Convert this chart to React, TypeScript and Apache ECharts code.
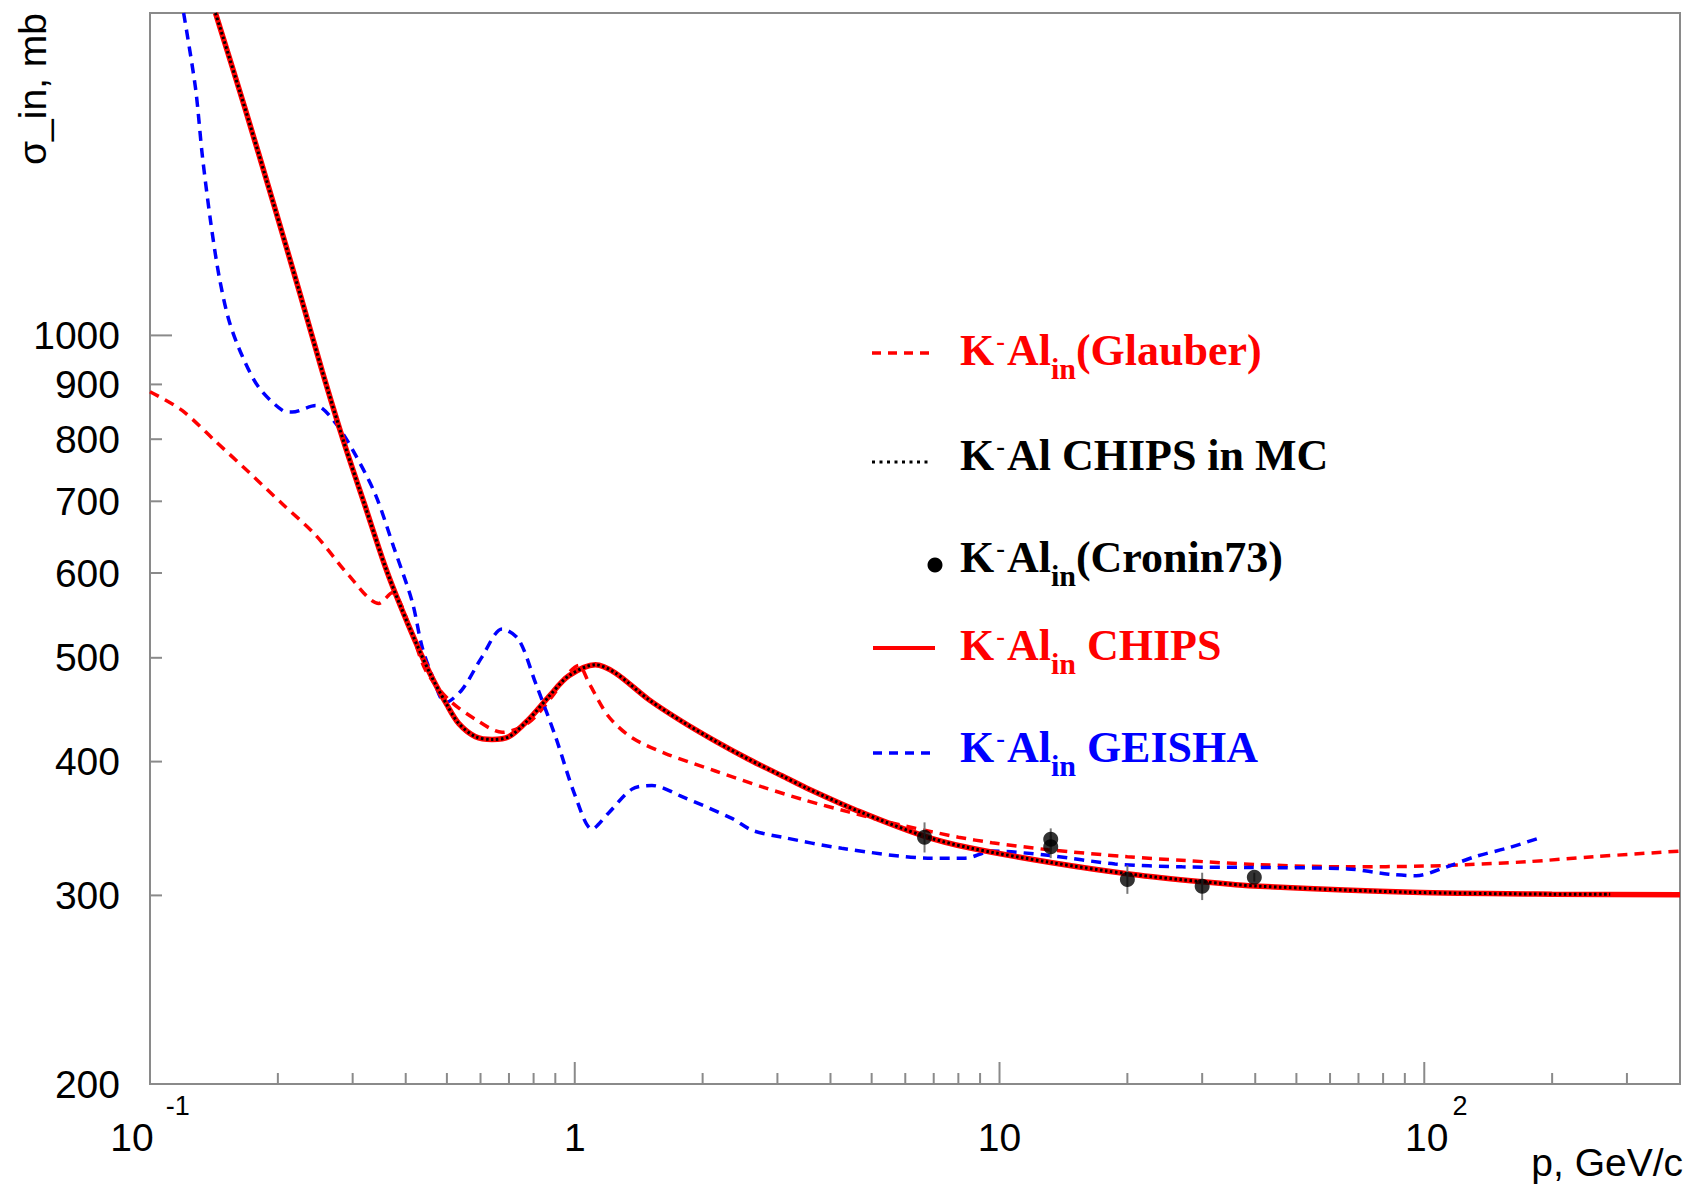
import React, { useEffect, useRef } from 'react';
import * as echarts from 'echarts';

// ---- cross-section curves (p in GeV/c, sigma in mb) ----
const chipsP = [0.1426, 0.167, 0.1954, 0.2262, 0.2542, 0.2857, 0.3209, 0.3607, 0.4054, 0.4556, 0.5, 0.5335, 0.584, 0.639, 0.7, 0.779, 0.869, 0.968, 1.118, 1.246, 1.494, 1.789, 2.143, 2.567, 3.075, 3.51, 4.7, 6.62, 8.43, 13.2, 20.4, 30, 41, 94, 200, 400];
const chipsSigma = [2000, 1634, 1327, 1089, 927, 796, 693, 603, 537, 484, 452, 434, 422, 419.5, 422, 438, 460, 481, 492.6, 484, 457, 436, 418, 402, 388, 378, 359, 341, 332.5, 322, 314, 309, 306, 302, 300.8, 300.5];

// MC curve follows CHIPS and stops at this momentum
const mcEndP = 274;
const mcEndSigma = 300.7;

const glauberP = [0.1, 0.119, 0.1428, 0.171, 0.205, 0.2454, 0.2938, 0.3457, 0.3716, 0.407, 0.4455, 0.5052, 0.584, 0.6745, 0.779, 0.884, 0.968, 1.022, 1.079, 1.2, 1.364, 1.635, 2.143, 2.81, 3.5, 4.41, 5.5, 6.7, 8, 9.6, 13, 20, 26.8, 41, 66, 100, 125, 174, 250, 400];
const glauberSigma = [886, 851, 796, 745, 696, 651, 597, 562, 575, 537, 487, 457, 438, 426, 435, 460, 484, 492, 474, 441, 421, 407, 392, 378, 368, 359, 351, 345, 340, 336, 331, 326, 323.5, 320.5, 319, 319.5, 320.5, 322.5, 326, 330];

const geishaP = [0.12, 0.128, 0.1328, 0.139, 0.1454, 0.1535, 0.165, 0.1805, 0.205, 0.216, 0.2454, 0.2735, 0.3048, 0.34, 0.375, 0.4143, 0.437, 0.4617, 0.4963, 0.543, 0.605, 0.6745, 0.738, 0.808, 0.901, 1.004, 1.098, 1.2, 1.364, 1.52, 1.789, 2.344, 2.62, 3.075, 4.25, 6.93, 8.3, 9.6, 13, 18.7, 26.9, 38.5, 66, 82.5, 95.7, 113, 131.5, 158.5, 187.3];
const geishaSigma = [2000, 1701, 1472, 1275, 1136, 1032, 956, 894, 851, 848, 860, 828, 773, 709, 634, 564, 512, 481, 454, 467, 501, 532, 520, 474, 422, 371, 346, 358, 377, 380, 371, 354, 345, 340, 332, 325, 325, 330, 327, 321, 319, 318.6, 317.6, 314, 313, 319, 326, 332.5, 339.6];

// Cronin73 measurements
const croninP = [6.66, 13.2, 13.2, 20.0, 30.0, 39.8];
const croninSigma = [340, 338.5, 333, 310.5, 306, 312];
const croninErr = [11, 8, 8, 9.5, 9, 3];

// ---- axis ticks and labels ----
const xMajorTicks = [0.1, 1, 10, 100];
const xMinorTicks = [0.2, 0.3, 0.4, 0.5, 0.6, 0.7, 0.8, 0.9, 2, 3, 4, 5, 6, 7, 8, 9, 20, 30, 40, 50, 60, 70, 80, 90, 200, 300];
const yMinorTicks = [300, 400, 500, 600, 700, 800, 900];
const yMajorTicks = [1000];
const yLabelValues = [200, 300, 400, 500, 600, 700, 800, 900, 1000];

const SANS = "'Liberation Sans', Arial, Helvetica, sans-serif";
const SERIF = "'Liberation Serif', 'Times New Roman', serif";
const FRAME = '#8a8a8a';
const RED = '#ff0000';
const BLUE = '#0000ff';

function pairs(p: number[], s: number[]) {
  return p.map((v, i) => [v, s[i]]);
}

function legendRich(color: string) {
  const base = { fontFamily: SERIF, fontWeight: 'bold', fill: color, verticalAlign: 'top' };
  return {
    m: { ...base, fontSize: 44, lineHeight: 44 },
    p: { ...base, fontSize: 26, lineHeight: 12, padding: [0, 2, 0, 2] },
    s: { ...base, fontSize: 30, lineHeight: 30, padding: [25, 0, 0, 0] },
  };
}

function legendText(text: string, color: string, x: number, baseline: number) {
  return {
    type: 'text',
    x,
    y: baseline - 37,
    silent: true,
    style: {
      text,
      rich: legendRich(color),
      fill: color,
      align: 'left',
      textAlign: 'left',
      verticalAlign: 'top',
      textVerticalAlign: 'top',
    },
  };
}

function legendLine(x1: number, x2: number, y: number, color: string, width: number, dash: any) {
  return {
    type: 'line',
    silent: true,
    shape: { x1, y1: y, x2, y2: y },
    style: { stroke: color, lineWidth: width, lineDash: dash },
  };
}

export default function App() {
  const ref = useRef<HTMLDivElement>(null);

  useEffect(() => {
    if (!ref.current) return;
    const chart = echarts.init(ref.current, null, { renderer: 'svg' });

    const mcData = pairs(chipsP, chipsSigma).filter((d) => d[0] <= 200);
    mcData.push([mcEndP, mcEndSigma]);

    const tickSeries = (values: number[], axis: 'x' | 'y', len: number) => ({
      type: 'custom',
      silent: true,
      clip: false,
      z: 5,
      data: values.map((v) => (axis === 'x' ? [v, 200] : [0.1, v])),
      renderItem: (_params: any, api: any) => {
        const pt = api.coord([api.value(0), api.value(1)]);
        return {
          type: 'line',
          shape:
            axis === 'x'
              ? { x1: pt[0], y1: pt[1], x2: pt[0], y2: pt[1] - len }
              : { x1: pt[0], y1: pt[1], x2: pt[0] + len, y2: pt[1] },
          style: { stroke: FRAME, lineWidth: 2 },
        };
      },
    });

    const xLabel = (v: number) => {
      const e = Math.log10(v);
      const k = Math.round(e);
      if (Math.abs(e - k) > 1e-6) return '';
      if (k === -1) return '{b|10}{s|-1}';
      if (k === 0) return '{b|1}';
      if (k === 1) return '{b|10}';
      if (k === 2) return '{b2|10}{s2|2}';
      return '';
    };

    const option: any = {
      animation: false,
      backgroundColor: '#ffffff',
      grid: {
        left: 150,
        top: 13,
        width: 1530,
        height: 1071,
        show: true,
        borderColor: FRAME,
        borderWidth: 2,
        backgroundColor: 'transparent',
      },
      xAxis: {
        type: 'log',
        logBase: 10,
        min: 0.1,
        max: 400,
        axisLine: { show: true, onZero: false, lineStyle: { color: FRAME, width: 2 } },
        axisTick: { show: false },
        splitLine: { show: false },
        axisLabel: {
          margin: 8,
          formatter: xLabel,
          rich: {
            b: { fontFamily: SANS, fontSize: 39, lineHeight: 39, color: '#000', verticalAlign: 'top', padding: [26, 0, 0, 0] },
            b2: { fontFamily: SANS, fontSize: 39, lineHeight: 39, color: '#000', verticalAlign: 'top', padding: [26, 0, 0, 24] },
            s: { fontFamily: SANS, fontSize: 27, lineHeight: 27, color: '#000', verticalAlign: 'top', padding: [0, 0, 0, 12] },
            s2: { fontFamily: SANS, fontSize: 27, lineHeight: 27, color: '#000', verticalAlign: 'top', padding: [0, 0, 0, 4] },
          },
        },
      },
      yAxis: {
        type: 'log',
        logBase: 10,
        min: 200,
        max: 2000,
        axisLine: { show: true, lineStyle: { color: FRAME, width: 2 } },
        axisTick: { show: false },
        axisLabel: { show: false },
        splitLine: { show: false },
      },
      series: [
        {
          name: 'K-Al in (Glauber)',
          type: 'line',
          data: pairs(glauberP, glauberSigma),
          showSymbol: false,
          smooth: 0.3,
          lineStyle: { color: RED, width: 3.5, type: [10, 7] },
          z: 2,
        },
        {
          name: 'K-Al in GEISHA',
          type: 'line',
          data: pairs(geishaP, geishaSigma),
          showSymbol: false,
          smooth: 0.3,
          lineStyle: { color: BLUE, width: 3.5, type: [10, 7] },
          z: 2,
        },
        {
          name: 'K-Al in CHIPS',
          type: 'line',
          data: pairs(chipsP, chipsSigma),
          showSymbol: false,
          smooth: 0.3,
          lineStyle: { color: RED, width: 5.5 },
          z: 3,
        },
        {
          name: 'K-Al CHIPS in MC',
          type: 'line',
          data: mcData,
          showSymbol: false,
          smooth: 0.3,
          lineStyle: { color: '#000', width: 3, type: [2.5, 2.5] },
          z: 4,
        },
        {
          name: 'Cronin73 errors',
          type: 'custom',
          silent: true,
          z: 5,
          data: croninP.map((p, i) => [p, croninSigma[i] - croninErr[i], croninSigma[i] + croninErr[i]]),
          encode: { x: 0, y: [1, 2] },
          renderItem: (_params: any, api: any) => {
            const lo = api.coord([api.value(0), api.value(1)]);
            const hi = api.coord([api.value(0), api.value(2)]);
            return {
              type: 'line',
              shape: { x1: lo[0], y1: lo[1], x2: hi[0], y2: hi[1] },
              style: { stroke: '#777', lineWidth: 2 },
            };
          },
        },
        {
          name: 'K-Al in (Cronin73)',
          type: 'scatter',
          data: pairs(croninP, croninSigma),
          symbol: 'circle',
          symbolSize: 15,
          itemStyle: { color: '#000' },
          z: 6,
        },
        tickSeries(xMajorTicks, 'x', 22),
        tickSeries(xMinorTicks, 'x', 11),
        tickSeries(yMajorTicks, 'y', 22),
        tickSeries(yMinorTicks, 'y', 12),
        {
          name: 'y labels',
          type: 'custom',
          silent: true,
          clip: false,
          data: yLabelValues.map((v) => [0.1, v]),
          renderItem: (_params: any, api: any) => {
            const v = api.value(1);
            const pt = api.coord([api.value(0), v]);
            return {
              type: 'text',
              x: pt[0] - 30,
              y: pt[1],
              style: {
                text: String(v),
                fontFamily: SANS,
                fontSize: 39,
                fill: '#000',
                align: 'right',
                textAlign: 'right',
                verticalAlign: 'middle',
                textVerticalAlign: 'middle',
              },
            };
          },
        },
      ],
      graphic: [
        {
          type: 'text',
          x: 32,
          y: 13,
          rotation: Math.PI / 2,
          silent: true,
          style: {
            text: 'σ_in, mb',
            fontFamily: SANS,
            fontSize: 39,
            fill: '#000',
            align: 'right',
            textAlign: 'right',
            verticalAlign: 'middle',
            textVerticalAlign: 'middle',
          },
        },
        {
          type: 'text',
          x: 1683,
          y: 1162,
          silent: true,
          style: {
            text: 'p, GeV/c',
            fontFamily: SANS,
            fontSize: 39,
            fill: '#000',
            align: 'right',
            textAlign: 'right',
            verticalAlign: 'middle',
            textVerticalAlign: 'middle',
          },
        },
        legendLine(872, 930, 353, RED, 3.5, [9, 7]),
        legendText('{m|K}{p|-}{m|Al}{s|in}{m|(Glauber)}', RED, 960, 365),
        legendLine(872, 930, 462, '#000', 3, [3, 4.5]),
        legendText('{m|K}{p|-}{m|Al CHIPS in MC}', '#000', 960, 470),
        { type: 'circle', silent: true, shape: { cx: 935, cy: 565, r: 7.5 }, style: { fill: '#000' } },
        legendText('{m|K}{p|-}{m|Al}{s|in}{m|(Cronin73)}', '#000', 960, 572),
        legendLine(873, 935, 648, RED, 4, null),
        legendText('{m|K}{p|-}{m|Al}{s|in}{m| CHIPS}', RED, 960, 660),
        legendLine(873, 930, 753, BLUE, 3.5, [9, 7]),
        legendText('{m|K}{p|-}{m|Al}{s|in}{m| GEISHA}', BLUE, 960, 762),
      ],
    };

    chart.setOption(option);
    return () => chart.dispose();
  }, []);

  return (
    <div
      ref={ref}
      style={{ position: 'fixed', left: 0, top: 0, width: 1689, height: 1185, background: '#ffffff' }}
    />
  );
}
